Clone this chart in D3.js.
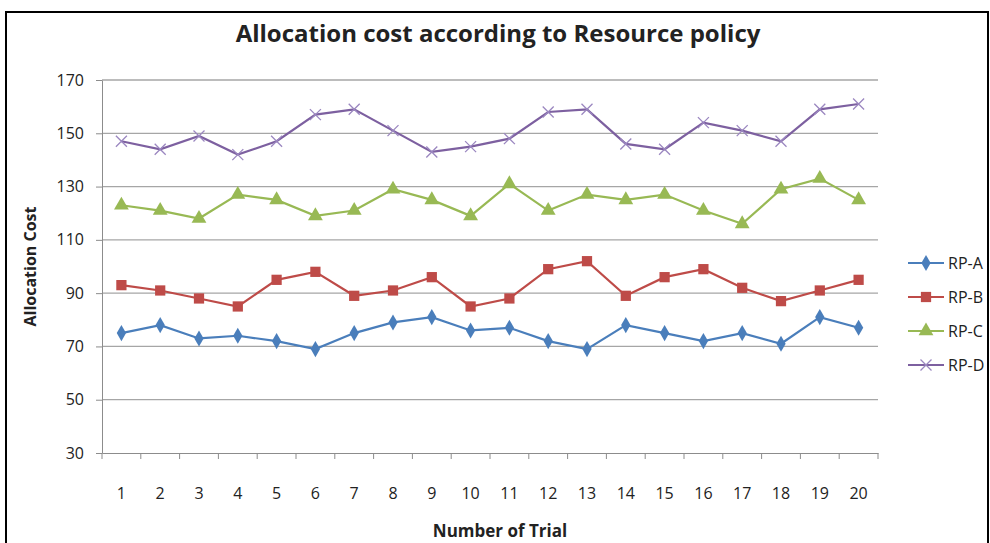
<!DOCTYPE html>
<html>
<head>
<meta charset="utf-8">
<script src="https://cdn.jsdelivr.net/npm/d3@7"></script>
<style>
  body { margin: 0; background: #fff; }
  text { font-family: "Open Sans", "Noto Sans", sans-serif; fill: #222; }
  .axis path, .axis line { stroke: #8c8c8c; }
  .grid line { stroke: #a6a6a6; stroke-width: 1.3; }
</style>
</head>
<body>
<svg width="990" height="543"></svg>
<script>
var trials = d3.range(1, 21).map(String);
var yTicks = [30, 50, 70, 90, 110, 130, 150, 170];

var rpA = [75, 78, 73, 74, 72, 69, 75, 79, 81, 76, 77, 72, 69, 78, 75, 72, 75, 71, 81, 77];
var rpB = [93, 91, 88, 85, 95, 98, 89, 91, 96, 85, 88, 99, 102, 89, 96, 99, 92, 87, 91, 95];
var rpC = [123, 121, 118, 127, 125, 119, 121, 129, 125, 119, 131, 121, 127, 125, 127, 121, 116, 129, 133, 125];
var rpD = [147, 144, 149, 142, 147, 157, 159, 151, 143, 145, 148, 158, 159, 146, 144, 154, 151, 147, 159, 161];

var seriesNames = ["RP-A", "RP-B", "RP-C", "RP-D"];
var seriesColors = ["#4a7ebb", "#be4b48", "#98b954", "#7d60a0"];
var seriesSymbols = ["diamond", "square", "triangle", "cross"];

var series = [rpA, rpB, rpC, rpD].map(function(vals, i) {
  return {name: seriesNames[i], color: seriesColors[i], symbol: seriesSymbols[i],
          values: vals.map(function(v, j) { return {trial: trials[j], value: v}; })};
});

var svg = d3.select("svg"),
    margin = {top: 80, right: 112, bottom: 90, left: 102},
    width = 990 - margin.left - margin.right,
    height = 543 - margin.top - margin.bottom;

// outer frame
svg.append("rect")
    .attr("x", 6).attr("y", 12)
    .attr("width", 982).attr("height", 560)
    .attr("fill", "none").attr("stroke", "#000").attr("stroke-width", 2);

var x = d3.scaleBand().domain(trials).range([0, width]),
    y = d3.scaleLinear().domain([30, 170]).range([height, 0]);

var g = svg.append("g")
    .attr("transform", "translate(" + margin.left + "," + margin.top + ")");

g.append("g")
    .attr("class", "grid")
  .selectAll("line")
  .data(yTicks.slice(1))
  .enter().append("line")
    .attr("x1", 0).attr("x2", width)
    .attr("y1", function(d) { return y(d); })
    .attr("y2", function(d) { return y(d); });

var yAxis = g.append("g")
    .attr("class", "axis")
    .call(d3.axisLeft(y).tickValues(yTicks).tickSize(6).tickPadding(12).tickSizeOuter(0));
yAxis.selectAll("text").style("font-size", "16px");

var xAxis = g.append("g")
    .attr("class", "axis")
    .attr("transform", "translate(0," + height + ")")
    .call(d3.axisBottom(x).tickSize(0).tickPadding(35).tickSizeOuter(0));
xAxis.selectAll("text").style("font-size", "16px");
// tick marks at band boundaries
xAxis.selectAll(".sep")
  .data(d3.range(0, trials.length + 1))
  .enter().append("line")
    .attr("class", "sep")
    .attr("x1", function(i) { return i * x.bandwidth(); })
    .attr("x2", function(i) { return i * x.bandwidth(); })
    .attr("y1", 0).attr("y2", 6)
    .attr("stroke", "#8c8c8c");

var line = d3.line()
    .x(function(d) { return x(d.trial) + x.bandwidth() / 2; })
    .y(function(d) { return y(d.value); });

function drawSymbol(sel, type, color) {
  if (type === "cross") {
    sel.append("path")
        .attr("d", "M-5.5,-5.5L5.5,5.5M-5.5,5.5L5.5,-5.5")
        .attr("stroke", "#9b87c0").attr("stroke-width", 1.3).attr("fill", "none");
  } else {
    var sym = type === "diamond" ? d3.symbolDiamond : type === "square" ? d3.symbolSquare : d3.symbolTriangle;
    var size = type === "diamond" ? 75 : type === "square" ? 105 : 95;
    sel.append("path")
        .attr("d", d3.symbol().type(sym).size(size)())
        .attr("fill", color);
  }
}

var s = g.selectAll(".series")
  .data(series)
  .enter().append("g")
    .attr("class", "series");

s.append("path")
    .attr("fill", "none")
    .attr("stroke", function(d) { return d.color; })
    .attr("stroke-width", 2.2)
    .attr("d", function(d) { return line(d.values); });

s.each(function(d) {
  var grp = d3.select(this);
  d.values.forEach(function(p) {
    var m = grp.append("g")
        .attr("transform", "translate(" + (x(p.trial) + x.bandwidth() / 2) + "," + y(p.value) + ")");
    drawSymbol(m, d.symbol, d.color);
  });
});

// legend
var legend = svg.append("g")
    .attr("transform", "translate(908,263)");

var item = legend.selectAll(".item")
  .data(series)
  .enter().append("g")
    .attr("class", "item")
    .attr("transform", function(d, i) { return "translate(0," + i * 34 + ")"; });

item.append("line")
    .attr("x1", 0).attr("x2", 36)
    .attr("stroke", function(d) { return d.color; })
    .attr("stroke-width", 2.2);

item.each(function(d) {
  var m = d3.select(this).append("g").attr("transform", "translate(18,0)");
  drawSymbol(m, d.symbol, d.color);
});

item.append("text")
    .attr("x", 40)
    .attr("dy", "0.35em")
    .style("font-size", "16px")
    .text(function(d) { return d.name; });

// titles
svg.append("text")
    .attr("x", 498).attr("y", 42)
    .attr("text-anchor", "middle")
    .style("font-size", "24px").style("font-weight", "bold")
    .text("Allocation cost according to Resource policy");

svg.append("text")
    .attr("transform", "translate(36," + (margin.top + height / 2) + ") rotate(-90)")
    .attr("text-anchor", "middle")
    .style("font-size", "16px").style("font-weight", "bold")
    .text("Allocation Cost");

svg.append("text")
    .attr("x", 500).attr("y", 537)
    .attr("text-anchor", "middle")
    .style("font-size", "17px").style("font-weight", "bold")
    .text("Number of Trial");
</script>
</body>
</html>
